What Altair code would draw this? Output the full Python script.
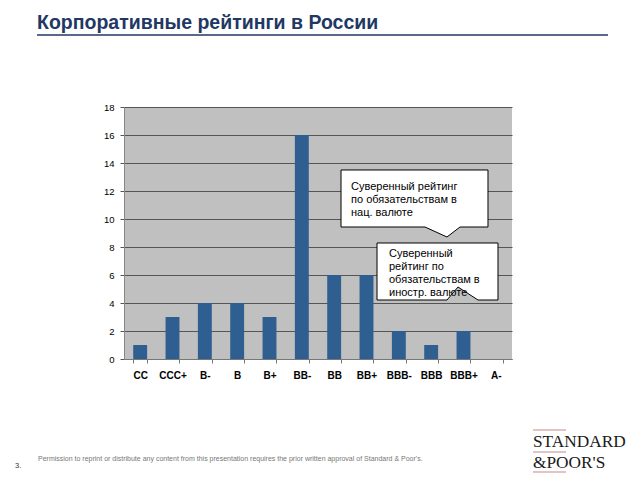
import altair as alt
import pandas as pd

# ---- data ----
ratings = ["CC", "CCC+", "B-", "B", "B+", "BB-", "BB", "BB+", "BBB-", "BBB", "BBB+", "A-"]
counts = [1, 3, 4, 4, 3, 16, 6, 6, 2, 1, 2, 0]
y_ticks = [0, 2, 4, 6, 8, 10, 12, 14, 16, 18]

title_text = "Корпоративные рейтинги в России"
callout1_lines = ["Суверенный рейтинг", "по обязательствам в", "нац. валюте"]
callout2_lines = ["Суверенный", "рейтинг по", "обязательствам в", "иностр. валюте"]
footer_text = ("Permission to reprint or distribute any content from this presentation "
               "requires the prior written approval of Standard & Poor's.")
page_no = "3."
logo_lines = ["STANDARD", "&POOR'S"]

df = pd.DataFrame({"rating": ratings, "count": counts})

# ---- layout (plot area origin on page) ----
OX, OY = 124, 107
W, H = 388, 252
one = pd.DataFrame({"k": [0]})
FONT = "Liberation Sans"


def px(x):
    return x - OX


def py(y):
    return y - OY


def shape_path(pts, k=80):
    cx = (min(p[0] for p in pts) + max(p[0] for p in pts)) / 2
    cy = (min(p[1] for p in pts) + max(p[1] for p in pts)) / 2
    s = " ".join(
        ("M" if i == 0 else "L") + f"{(x - cx) / k:.4f},{(y - cy) / k:.4f}"
        for i, (x, y) in enumerate(pts)
    ) + " Z"
    return s, cx, cy, (2 * k) ** 2


bars = alt.Chart(df).mark_bar(color="#2F5E91").encode(
    x=alt.X("rating:N", sort=ratings, title=None,
            scale=alt.Scale(paddingInner=0.57, paddingOuter=0.285),
            axis=alt.Axis(labelAngle=0, labelFont=FONT, labelFontSize=10,
                          labelColor="#000", labelFontWeight="bold",
                          tickBand="extent", tickSize=4, tickColor="#777",
                          domainColor="#777", labelPadding=7)),
    y=alt.Y("count:Q", title=None,
            scale=alt.Scale(domain=[0, 18], nice=False),
            axis=alt.Axis(values=y_ticks, labelFont=FONT, labelFontSize=9.5,
                          labelColor="#000", grid=True, gridColor="#555",
                          gridWidth=1, tickSize=4, tickColor="#555",
                          domain=True, domainColor="#888", labelPadding=6)),
)

layers = [bars]

# callouts
c1 = [(341, 170), (488, 170), (488, 227), (460, 227), (447, 237), (425, 227), (341, 227)]
c2 = [(377, 243), (498, 243), (498, 300), (478, 300), (458, 287), (447, 300), (377, 300)]
for pts in (c1, c2):
    path, cx, cy, size = shape_path(pts)
    layers.append(
        alt.Chart(one).mark_point(shape=path, size=size, filled=True, fill="white",
                                  stroke="black", strokeWidth=1, opacity=1)
        .encode(x=alt.value(px(cx)), y=alt.value(py(cy)))
    )

for i, line in enumerate(callout1_lines):
    layers.append(alt.Chart(one).mark_text(text=line, align="left", baseline="alphabetic",
                                           font=FONT, fontSize=11, fontWeight="normal",
                                           color="#000")
                  .encode(x=alt.value(px(351)), y=alt.value(py(190 + 13 * i))))
for i, line in enumerate(callout2_lines):
    layers.append(alt.Chart(one).mark_text(text=line, align="left", baseline="alphabetic",
                                           font=FONT, fontSize=11, fontWeight="normal",
                                           color="#000")
                  .encode(x=alt.value(px(389)), y=alt.value(py(257 + 13 * i))))

# title and underline
layers.append(alt.Chart(one).mark_text(text=title_text, align="left", baseline="alphabetic",
                                       font=FONT, fontSize=19.5, fontWeight="bold",
                                       color="#1F3864")
              .encode(x=alt.value(px(37)), y=alt.value(py(29))))
layers.append(alt.Chart(one).mark_rule(color="#1F3864", strokeWidth=1.5)
              .encode(x=alt.value(px(37)), x2=alt.value(px(608)), y=alt.value(py(35))))

# footer
layers.append(alt.Chart(one).mark_text(text=footer_text, align="left", baseline="alphabetic",
                                       font=FONT, fontSize=7, color="#777")
              .encode(x=alt.value(px(38)), y=alt.value(py(461))))
layers.append(alt.Chart(one).mark_text(text=page_no, align="left", baseline="alphabetic",
                                       font=FONT, fontSize=7.5, color="#333")
              .encode(x=alt.value(px(15)), y=alt.value(py(468))))

# logo
for i, line in enumerate(logo_lines):
    layers.append(alt.Chart(one).mark_text(text=line, align="left", baseline="alphabetic",
                                           font="Liberation Serif", fontSize=17.3,
                                           color="#1a1a1a")
                  .encode(x=alt.value(px(533)), y=alt.value(py(447 + 21 * i))))
for yy in (430, 452, 472):
    layers.append(alt.Chart(one).mark_rule(color="#C8878A", strokeWidth=1)
                  .encode(x=alt.value(px(533)), x2=alt.value(px(566)), y=alt.value(py(yy))))

chart = alt.layer(*layers).properties(
    width=W, height=H,
    autosize=alt.AutoSizeParams(type="none"),
    padding={"left": OX - 8, "top": OY - 8, "right": 640 - 8 - OX - W, "bottom": 114},
    background="white",
).configure_view(fill="#C0C0C0", stroke=None)

chart.save("out.html", embed_options={"renderer": "svg", "actions": False})
